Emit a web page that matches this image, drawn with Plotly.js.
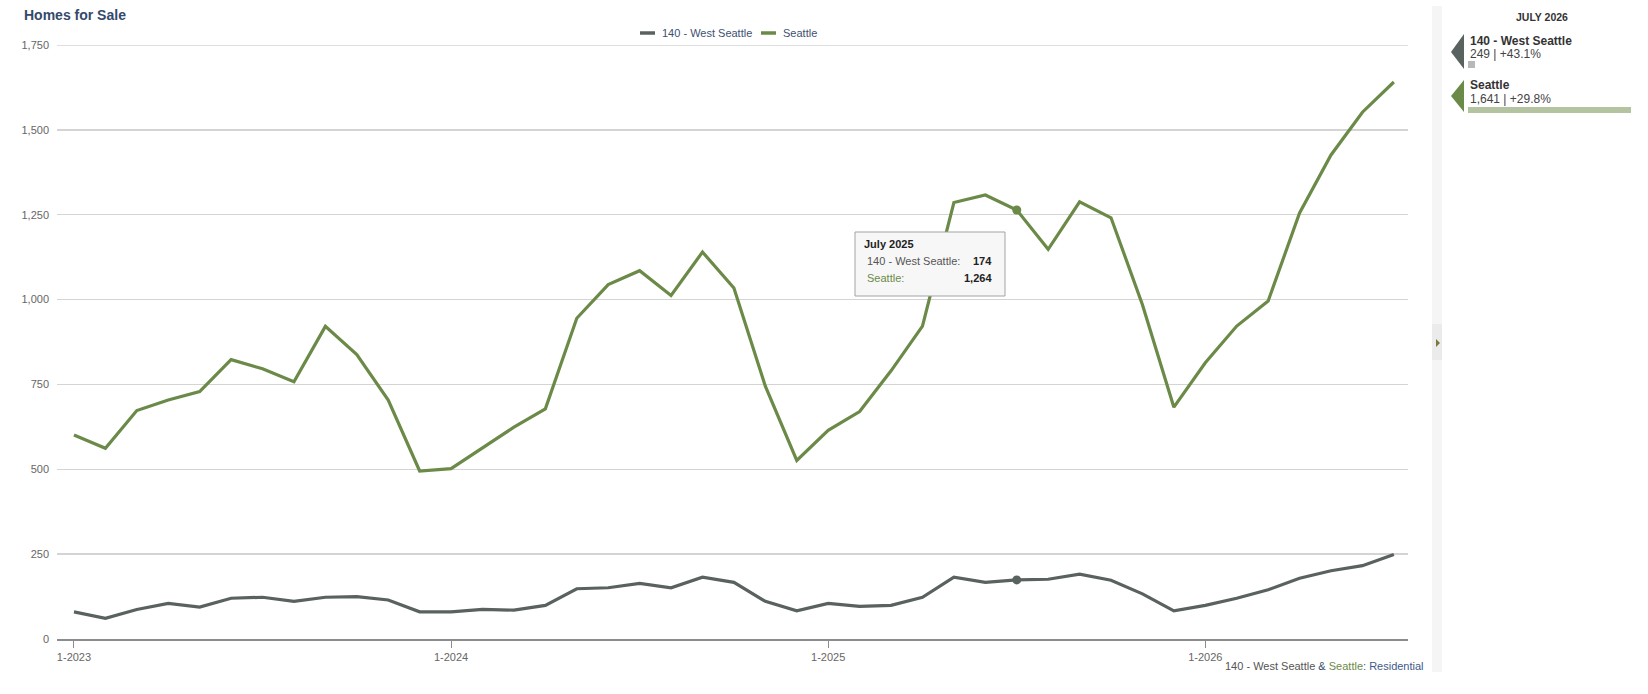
<!DOCTYPE html>
<html>
<head>
<meta charset="utf-8">
<script src="https://cdn.plot.ly/plotly-3.0.1.min.js"></script>
<style>
  html, body { margin: 0; padding: 0; background: #ffffff; }
  #chart { width: 1648px; height: 694px; }
</style>
</head>
<body>
<div id="chart"></div>
<script>
// ---- data ----
const months = [
  "1-2023","2-2023","3-2023","4-2023","5-2023","6-2023","7-2023","8-2023","9-2023","10-2023","11-2023","12-2023",
  "1-2024","2-2024","3-2024","4-2024","5-2024","6-2024","7-2024","8-2024","9-2024","10-2024","11-2024","12-2024",
  "1-2025","2-2025","3-2025","4-2025","5-2025","6-2025","7-2025","8-2025","9-2025","10-2025","11-2025","12-2025",
  "1-2026","2-2026","3-2026","4-2026","5-2026","6-2026","7-2026"
];
const westSeattle = [
  80, 61, 87, 105, 94, 120, 123, 111, 123, 125, 115, 80,
  80, 87, 85, 99, 148, 151, 164, 151, 182, 167, 111, 83,
  105, 96, 99, 123, 182, 167, 174, 176, 191, 173, 133, 83,
  99, 120, 145, 179, 201, 216, 249
];
const seattle = [
  601, 562, 673, 704, 729, 823, 796, 758, 921, 838, 704, 495,
  502, 562, 624, 678, 945, 1044, 1085, 1012, 1140, 1034, 745, 526,
  615, 670, 790, 922, 1286, 1308, 1264, 1148, 1288, 1241, 985, 683,
  814, 922, 996, 1255, 1426, 1552, 1641
];
const xTicks = ["1-2023", "1-2024", "1-2025", "1-2026"];
const yTicks = [0, 250, 500, 750, 1000, 1250, 1500, 1750];
const seriesNames = ["140 - West Seattle", "Seattle"];
const hoverIndex = 30;          // July 2025
const hoverLabel = "July 2025";
const latestLabel = "JULY 2026";
const westChange = "+43.1%";
const seattleChange = "+29.8%";

// ---- style ----
const GRAY = "#59625f";
const GREEN = "#6b8a48";
const FONT = "Liberation Sans, Arial, Helvetica, sans-serif";
const L = 57, R = 1408, T = 45, B = 639;
const px = x => (x - L) / (R - L);
const py = y => (B - y) / (B - T);
const fmt = v => v.toLocaleString("en-US");

const traces = [
  { x: months, y: westSeattle, name: seriesNames[0], type: "scatter", mode: "lines",
    line: { color: GRAY, width: 3.2 }, hoverinfo: "skip", cliponaxis: false },
  { x: months, y: seattle, name: seriesNames[1], type: "scatter", mode: "lines",
    line: { color: GREEN, width: 3.2 }, hoverinfo: "skip", cliponaxis: false },
  { x: [months[hoverIndex]], y: [westSeattle[hoverIndex]], type: "scatter", mode: "markers",
    marker: { color: GRAY, size: 9 }, hoverinfo: "skip" },
  { x: [months[hoverIndex]], y: [seattle[hoverIndex]], type: "scatter", mode: "markers",
    marker: { color: GREEN, size: 9 }, hoverinfo: "skip" }
];

const ann = [];
const shapes = [];
function text(x, y, t, size, color, opts) {
  ann.push(Object.assign({
    xref: "paper", yref: "paper", x: px(x), y: py(y), text: t, showarrow: false,
    xanchor: "left", yanchor: "middle",
    font: { family: FONT, size: size, color: color }
  }, opts || {}));
}
function rect(x0, y0, x1, y1, fill, line) {
  shapes.push({ type: "rect", xref: "paper", yref: "paper",
    x0: px(x0), x1: px(x1), y0: py(y0), y1: py(y1),
    fillcolor: fill, line: line || { width: 0 }, layer: "above" });
}
function seg(x0, y0, x1, y1, color, w) {
  shapes.push({ type: "line", xref: "paper", yref: "paper",
    x0: px(x0), x1: px(x1), y0: py(y0), y1: py(y1),
    line: { color: color, width: w } });
}
function tri(pts, fill) {
  let p = "M " + pts.map(q => px(q[0]) + "," + py(q[1])).join(" L ") + " Z";
  shapes.push({ type: "path", xref: "paper", yref: "paper", path: p,
    fillcolor: fill, line: { width: 0 } });
}

// top gridline (at the edge of the plot area)
shapes.push({ type: "line", xref: "paper", yref: "y", x0: 0, x1: 1,
  y0: yTicks[yTicks.length - 1], y1: yTicks[yTicks.length - 1],
  line: { color: "#d4d4d4", width: 1.5 }, layer: "below" });

// title
text(22, 15, "<b>Homes for Sale</b>", 14, "#34496b");

// legend (top)
seg(640, 33, 655, 33, GRAY, 3.5);
text(660, 33, seriesNames[0], 11, "#3e5071");
seg(761, 33, 776, 33, GREEN, 3.5);
text(781, 33, seriesNames[1], 11, "#3e5071");

// bottom right source
text(1426, 666,
  '<span style="color:#555">' + seriesNames[0] + '</span> <span style="color:#34496b">&amp;</span> ' +
  '<span style="color:' + GREEN + '">' + seriesNames[1] + '</span><span style="color:#3e5a8a">: Residential</span>',
  11, "#555", { xanchor: "right" });

// tooltip
rect(855, 232, 1005, 296, "#f7f7f7", { color: "#a3a3a3", width: 1 });
text(862, 244, "<b>" + hoverLabel + "</b>", 11, "#222");
text(865, 261, seriesNames[0] + ":", 11, "#555");
text(994, 261, "<b>" + fmt(westSeattle[hoverIndex]) + "</b>", 11, "#222", { xanchor: "right" });
text(865, 278, seriesNames[1] + ":", 11, GREEN);
text(994, 278, "<b>" + fmt(seattle[hoverIndex]) + "</b>", 11, "#222", { xanchor: "right" });

// sidebar strip
rect(1432, 6, 1442, 672, "#f5f5f5");
rect(1432, 324, 1442, 360, "#ebebeb");
tri([[1436, 339], [1436, 347], [1440, 343]], "#7a7a3a");

// sidebar content
const last = months.length - 1;
text(1542, 17, "<b>" + latestLabel + "</b>", 10.5, "#333", { xanchor: "center" });
tri([[1451, 52], [1464, 34], [1464, 69]], GRAY);
text(1468, 41, "<b>" + seriesNames[0] + "</b>", 12, "#333");
text(1468, 54, fmt(westSeattle[last]) + " | " + westChange, 12, "#444");
rect(1468, 61, 1475, 68, "#b8b8b8");
tri([[1451, 96], [1464, 80], [1464, 112]], GREEN);
text(1468, 85, "<b>" + seriesNames[1] + "</b>", 12, "#333");
text(1468, 99, fmt(seattle[last]) + " | " + seattleChange, 12, "#444");
rect(1468, 107, 1631, 113, "#b4c3a0");

const layout = {
  width: 1648, height: 694,
  margin: { l: L, r: 1648 - R, t: T, b: 694 - B, pad: 0 },
  paper_bgcolor: "#ffffff", plot_bgcolor: "#ffffff",
  showlegend: false,
  hovermode: false,
  font: { family: FONT, color: "#666" },
  xaxis: {
    type: "category",
    range: [-0.54, 42.45],
    tickvals: xTicks, ticktext: xTicks,
    showgrid: false, zeroline: false,
    showline: true, linecolor: "#8c8c8c", linewidth: 2,
    ticks: "outside", ticklen: 7, tickcolor: "#8c8c8c", tickwidth: 1,
    tickfont: { family: FONT, size: 11, color: "#666" },
    fixedrange: true
  },
  yaxis: {
    range: [0, 1750],
    tickvals: yTicks, ticktext: yTicks.map(fmt),
    showgrid: true, gridcolor: "#d4d4d4", gridwidth: 1.5,
    zeroline: false, showline: false, ticks: "",
    ticklabelstandoff: 7,
    tickfont: { family: FONT, size: 11, color: "#666" },
    fixedrange: true
  },
  annotations: ann,
  shapes: shapes
};

Plotly.newPlot("chart", traces, layout, { displayModeBar: false, staticPlot: true });
</script>
</body>
</html>
